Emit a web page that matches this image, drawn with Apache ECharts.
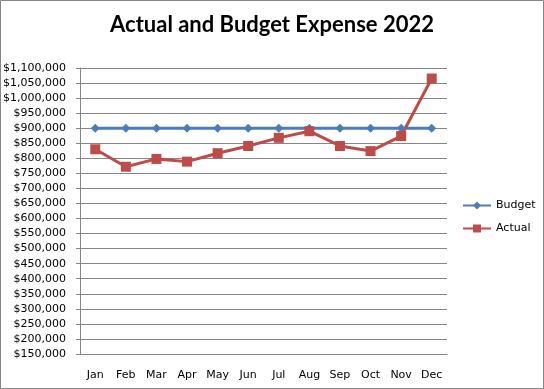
<!DOCTYPE html>
<html><head><meta charset="utf-8">
<script src="https://cdn.jsdelivr.net/npm/echarts@6/dist/echarts.min.js"></script>
<style>html,body{margin:0;padding:0;background:#fff}#c{width:544px;height:389px}</style>
</head><body><div id="c"></div>
<script>
const categories = ['Jan','Feb','Mar','Apr','May','Jun','Jul','Aug','Sep','Oct','Nov','Dec'];
const budget = [900000,900000,900000,900000,900000,900000,900000,900000,900000,900000,900000,900000];
const actual = [830000,772000,798000,789000,817000,841000,868000,890000,841000,824000,874000,1065000];
const chart = echarts.init(document.getElementById('c'));
const lab = {fontFamily:'DejaVu Sans', fontSize:11, color:'#000'};
chart.setOption({
  animation:false,
  graphic:[{type:'rect',shape:{x:0.5,y:0.5,width:543,height:388},style:{fill:'none',stroke:'#868686',lineWidth:1}}],
  title:{text:'Actual and Budget Expense 2022',left:'center',top:9,
    textStyle:{fontFamily:'Lato',fontWeight:'bold',fontSize:22,color:'#000'}},
  legend:{orient:'vertical',left:457,top:195,itemWidth:28,itemHeight:10,itemGap:12,
    textStyle:{fontFamily:'DejaVu Sans',fontSize:11,color:'#000'},data:['Budget','Actual']},
  grid:{left:79,right:97,top:68,bottom:35},
  xAxis:{type:'category',data:categories,boundaryGap:true,
    axisLine:{lineStyle:{color:'#868686'}},axisTick:{show:false},
    axisLabel:Object.assign({margin:16},lab)},
  yAxis:{type:'value',min:150000,max:1100000,interval:50000,
    axisLine:{show:true,lineStyle:{color:'#868686'}},
    axisTick:{show:true,length:4,lineStyle:{color:'#868686'}},
    splitLine:{lineStyle:{color:'#868686'}},
    axisLabel:Object.assign({margin:14,formatter:v=>'$'+v.toLocaleString('en-US')},lab)},
  series:[
    {name:'Budget',type:'line',data:budget,symbol:'diamond',symbolSize:9,
      lineStyle:{width:3,color:'#4a7ebb'},itemStyle:{color:'#4a7ebb'}},
    {name:'Actual',type:'line',data:actual,symbol:'rect',symbolSize:10,
      lineStyle:{width:3,color:'#be4b48'},itemStyle:{color:'#be4b48'}}
  ]
});
</script></body></html>
